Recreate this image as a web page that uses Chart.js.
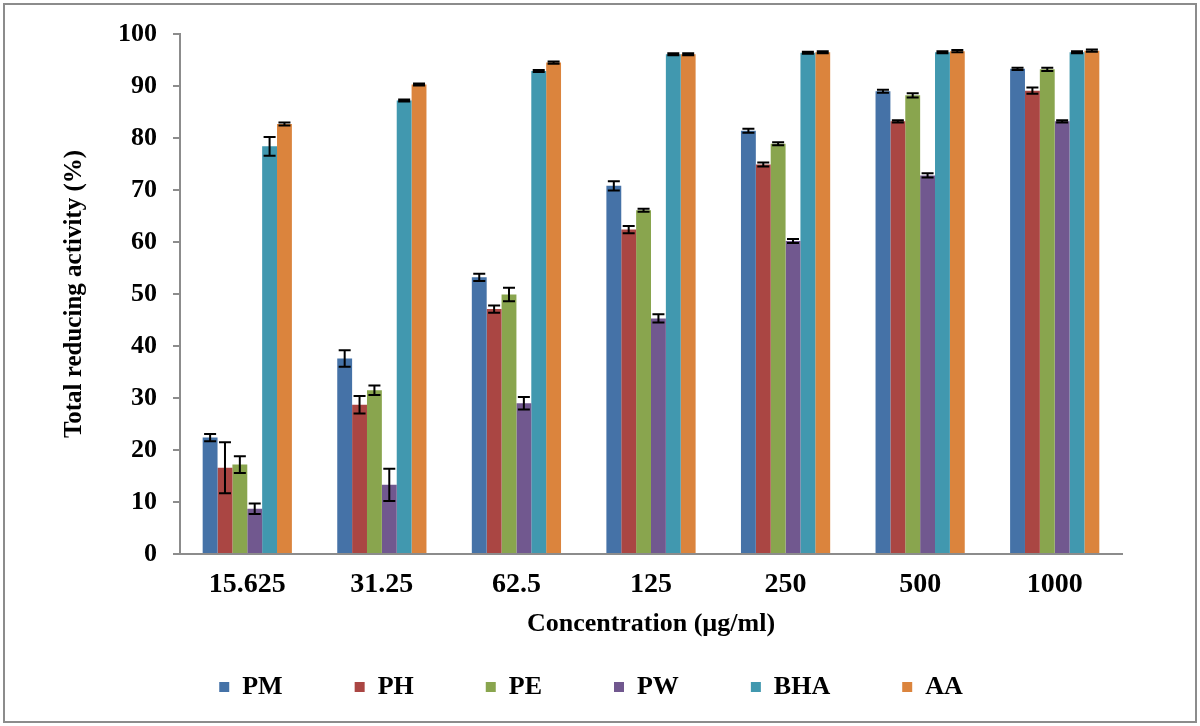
<!DOCTYPE html>
<html>
<head>
<meta charset="utf-8">
<script src="https://cdn.jsdelivr.net/npm/chart.js@4/dist/chart.umd.min.js"></script>
<style>
    html, body { margin: 0; padding: 0; background: #fff; }
    #wrap { position: relative; width: 1200px; height: 726px; }
</style>
</head>
<body>
<div id="wrap"><canvas id="reducingChart"></canvas></div>
<script>
// Concentrations (µg/ml)
const categories = ['15.625', '31.25', '62.5', '125', '250', '500', '1000'];
const seriesNames = ['PM', 'PH', 'PE', 'PW', 'BHA', 'AA'];
const seriesColors = ['#4572A7', '#AA4643', '#89A54E', '#71588F', '#4198AF', '#DB843D'];

// Total reducing activity (%) per series
const pm  = [22.4, 37.6, 53.2, 70.8, 81.4, 89.0, 93.3];
const ph  = [16.6, 28.7, 47.1, 62.4, 74.9, 83.2, 89.1];
const pe  = [17.2, 31.5, 49.9, 66.1, 78.9, 88.2, 93.2];
const pw  = [8.7, 13.3, 29.0, 45.3, 60.2, 72.8, 83.2];
const bha = [78.4, 87.2, 92.9, 96.1, 96.4, 96.5, 96.5];
const aa  = [82.7, 90.3, 94.5, 96.1, 96.5, 96.7, 96.8];

// Standard deviations (error bars)
const pmErr  = [0.7, 1.6, 0.7, 0.9, 0.4, 0.3, 0.2];
const phErr  = [4.9, 1.7, 0.7, 0.7, 0.4, 0.2, 0.6];
const peErr  = [1.6, 0.9, 1.3, 0.3, 0.3, 0.4, 0.3];
const pwErr  = [1.0, 3.1, 1.2, 0.8, 0.4, 0.4, 0.2];
const bhaErr = [1.8, 0.2, 0.2, 0.2, 0.2, 0.2, 0.2];
const aaErr  = [0.3, 0.2, 0.2, 0.2, 0.2, 0.2, 0.2];

const yTicks = [0, 10, 20, 30, 40, 50, 60, 70, 80, 90, 100];

const values = [pm, ph, pe, pw, bha, aa];
const errors = [pmErr, phErr, peErr, pwErr, bhaErr, aaErr];

const serif = '"Liberation Serif", "DejaVu Serif", serif';

// Draws the standard deviation whiskers on top of the bars
const errorBars = {
    id: 'errorBars',
    afterDatasetsDraw(chart) {
        const ctx = chart.ctx;
        const y = chart.scales.y;
        ctx.save();
        ctx.strokeStyle = '#000';
        ctx.lineWidth = 2;
        chart.data.datasets.forEach((ds, i) => {
            const meta = chart.getDatasetMeta(i);
            meta.data.forEach((bar, j) => {
                const v = ds.data[j];
                const e = ds.errors[j];
                const top = y.getPixelForValue(v + e);
                const bot = y.getPixelForValue(v - e);
                const x = bar.x;
                ctx.beginPath();
                ctx.moveTo(x, top); ctx.lineTo(x, bot);
                ctx.moveTo(x - 6, top); ctx.lineTo(x + 6, top);
                ctx.moveTo(x - 6, bot); ctx.lineTo(x + 6, bot);
                ctx.stroke();
            });
        });
        ctx.restore();
    }
};

// Grey frame around the whole chart
const frame = {
    id: 'frame',
    beforeDraw(chart) {
        const ctx = chart.ctx;
        ctx.save();
        ctx.fillStyle = '#fff';
        ctx.fillRect(0, 0, chart.width, chart.height);
        ctx.strokeStyle = '#8c8c8c';
        ctx.lineWidth = 2;
        ctx.strokeRect(4, 4, chart.width - 8, chart.height - 8);
        ctx.restore();
    }
};

new Chart(document.getElementById('reducingChart'), {
    type: 'bar',
    data: {
        labels: categories,
        datasets: seriesNames.map((name, i) => ({
            label: name,
            data: values[i],
            errors: errors[i],
            backgroundColor: seriesColors[i],
            borderWidth: 0,
            categoryPercentage: 0.663,
            barPercentage: 1.0
        }))
    },
    options: {
        responsive: true,
        maintainAspectRatio: false,
        animation: false,
        layout: {
            padding: { left: 60, right: 78, top: 34, bottom: 16 }
        },
        plugins: {
            tooltip: { enabled: false },
            legend: {
                position: 'bottom',
                labels: {
                    font: { family: serif, size: 26, weight: 'bold' },
                    color: '#000',
                    boxWidth: 10,
                    boxHeight: 10,
                    padding: 72
                }
            }
        },
        scales: {
            x: {
                // legend padding is large, so the title hangs below this box
                afterFit(scale) {
                    scale.height = 48;
                },
                grid: { display: false, drawTicks: false },
                border: { display: true, color: '#8c8c8c', width: 2 },
                ticks: {
                    font: { family: serif, size: 28, weight: 'bold' },
                    color: '#000',
                    padding: 14,
                    maxRotation: 0
                },
                title: {
                    display: true,
                    text: 'Concentration (µg/ml)',
                    font: { family: serif, size: 26, weight: 'bold' },
                    color: '#000',
                    padding: { top: 0, bottom: -38 }
                }
            },
            y: {
                min: 0,
                max: 100,
                afterBuildTicks(scale) {
                    scale.ticks = yTicks.map(v => ({ value: v }));
                },
                afterFit(scale) {
                    scale.width = 120;
                },
                grid: {
                    drawOnChartArea: false,
                    drawTicks: true,
                    tickLength: 7,
                    color: '#8c8c8c',
                    lineWidth: 2
                },
                border: { display: true, color: '#8c8c8c', width: 2 },
                ticks: {
                    font: { family: serif, size: 26, weight: 'bold' },
                    color: '#000',
                    padding: 16
                },
                title: {
                    display: true,
                    text: 'Total reducing activity (%)',
                    font: { family: serif, size: 25, weight: 'bold' },
                    color: '#000',
                    padding: { top: 0, bottom: 0 }
                }
            }
        }
    },
    plugins: [frame, errorBars]
});
</script>
</body>
</html>
